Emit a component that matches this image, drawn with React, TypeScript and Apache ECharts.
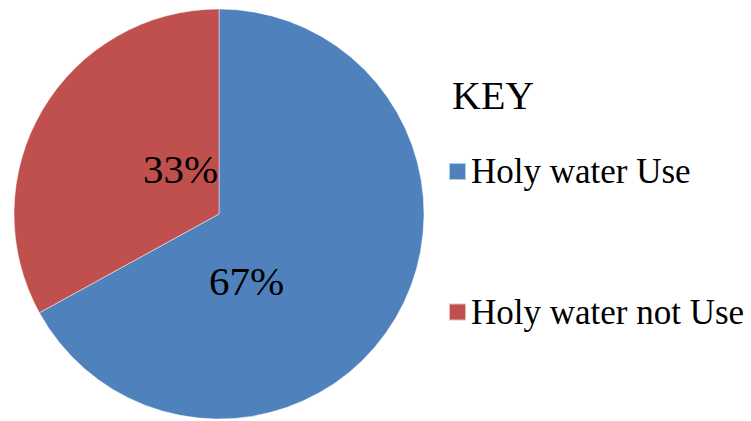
import React, { useEffect, useRef } from "react";
import * as echarts from "echarts";

const categories = ["Holy water Use", "Holy water not Use"];
const values = [67, 33];
const colors = ["#4F81BD", "#C0504D"];
const labelPositions = [
  [246.5, 281],
  [180.5, 169],
];

export default function App() {
  const ref = useRef<HTMLDivElement>(null);
  useEffect(() => {
    document.body.style.margin = "0";
    const chart = echarts.init(ref.current!, null, { renderer: "svg" });
    const font = "'Liberation Serif', 'Times New Roman', serif";
    chart.setOption({
      animation: false,
      backgroundColor: "#ffffff",
      title: {
        text: "KEY",
        left: 452,
        top: 75,
        padding: 0,
        textStyle: {
          fontFamily: font,
          fontSize: 40,
          fontWeight: "normal",
          color: "#000",
          lineHeight: 40,
        },
      },
      legend: {
        orient: "vertical",
        left: 448,
        top: 153.5,
        padding: 0,
        itemWidth: 17,
        itemHeight: 17,
        itemGap: 104.5,
        icon: "rect",
        data: categories,
        textStyle: {
          fontFamily: font,
          fontSize: 35,
          color: "#000",
          lineHeight: 36,
        },
      },
      series: [
        {
          type: "pie",
          center: [219, 214],
          radius: 205,
          startAngle: 90,
          clockwise: true,
          data: categories.map((c, i) => ({
            name: c,
            value: values[i],
            itemStyle: { color: colors[i] },
          })),
          itemStyle: { borderColor: "rgba(255,255,255,0.6)", borderWidth: 0.8 },
          label: {
            show: true,
            position: "inside",
            formatter: "{c}%",
            fontFamily: font,
            fontSize: 41,
            color: "#000",
          },
          labelLine: { show: false },
          labelLayout: (params: any) => ({
            x: labelPositions[params.dataIndex][0],
            y: labelPositions[params.dataIndex][1],
            align: "center",
            verticalAlign: "middle",
          }),
          emphasis: { disabled: true },
        },
      ],
    });
    return () => chart.dispose();
  }, []);
  return <div ref={ref} style={{ width: 751, height: 421 }} />;
}
